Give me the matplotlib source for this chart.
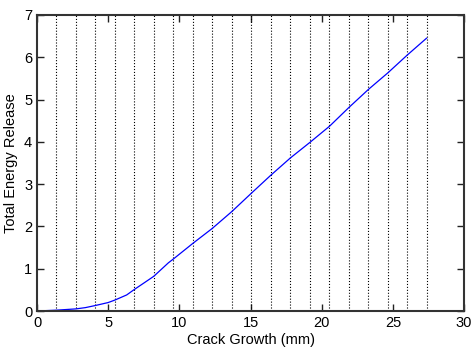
import matplotlib
matplotlib.use('Agg')
import matplotlib.pyplot as plt

plt.rcParams['font.family'] = ['Liberation Sans', 'DejaVu Sans']

# crack growth (mm) vs total energy release
growth = [0, 1.37, 2.74, 3.4, 4.1, 5.0, 5.48, 6.3, 6.84, 7.5, 8.2, 9.23, 9.58, 10.95,
          12.3, 13.68, 15.04, 16.42, 17.8, 19.18, 20.55, 21.9, 23.28, 24.64, 26.0, 27.36]
energy = [0, 0.02, 0.05, 0.08, 0.13, 0.2, 0.26, 0.38, 0.51, 0.66, 0.82, 1.14, 1.23, 1.6,
          1.95, 2.35, 2.78, 3.21, 3.62, 3.99, 4.37, 4.81, 5.24, 5.63, 6.05, 6.45]
# step positions marked by the dotted lines
steps = [1.368 * k for k in range(1, 21)]

fig = plt.figure(figsize=(4.77, 3.56), dpi=100)
ax = fig.add_axes([0.0776, 0.1264, 0.8954, 0.8316])

for s in steps:
    ax.axvline(s, color='k', linestyle=':', linewidth=0.8)
ax.plot(growth, energy, color='#0000ff', linewidth=0.9)

ax.set_xlim(0, 30)
ax.set_ylim(0, 7)
ax.set_xticks(range(0, 31, 5))
ax.set_yticks(range(0, 8))
ax.tick_params(direction='in', top=True, right=True, length=5, width=1,
               labelsize=10.5, colors='#222222', labelcolor='k')
for sp in ax.spines.values():
    sp.set_linewidth(1.5)
    sp.set_color('#333333')
ax.set_xlabel('Crack Growth (mm)', fontsize=10.5, labelpad=2)
ax.set_ylabel('Total Energy Release', fontsize=10.5, labelpad=4)

fig.savefig('out.png', dpi=100)
